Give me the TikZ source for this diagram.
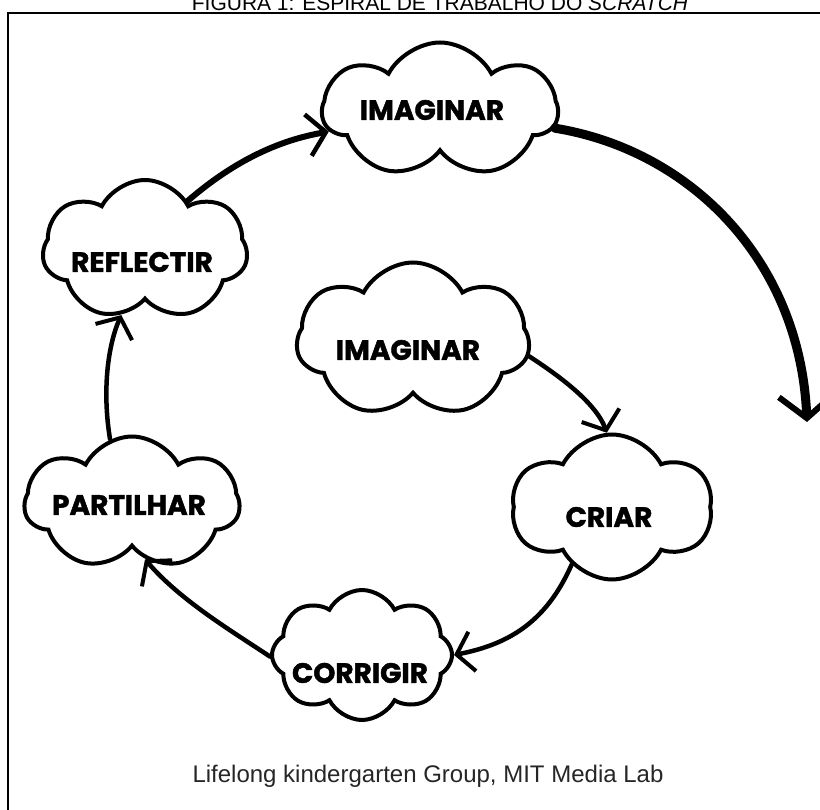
\documentclass[tikz,border=0pt]{standalone}
\usepackage{fontspec}
\setmainfont{Liberation Sans}
\newfontfamily\handfont{Poppins}[BoldFeatures={FakeBold=1.5}]
\usetikzlibrary{shapes.symbols,arrows.meta}
\begin{document}
\begin{tikzpicture}[x=1pt,y=-1pt,
  cloudbox/.style={cloud, draw, line width=4pt, cloud ignores aspect, inner sep=0pt, cloud puff arc=125},
  lbl/.style={font=\handfont\bfseries\fontsize{28}{28}\selectfont, inner sep=0pt},
  bigarrow/.style={line width=9pt, line cap=round, -{Straight Barb[length=22pt,width=54pt,line width=6pt]}},
  midarrow/.style={line width=6pt, line cap=round, -{Straight Barb[length=18pt,width=42pt,line width=4.5pt]}},
  smallarrow/.style={line width=4.5pt, line cap=round, -{Straight Barb[length=16pt,width=40pt,line width=4pt]}}
]
\useasboundingbox (0,0) rectangle (820,810);
\fill[white] (0,0) rectangle (820,810);
% frame
\draw[line width=2.5pt] (8,13) rectangle (850,830);
% title (cut by the page edge) and caption
\node[anchor=base, font=\fontsize{21}{21}\selectfont, inner sep=0pt] (title) at (440,11) {FIGURA 1: ESPIRAL DE TRABALHO DO \textit{SCRATCH}};
\node[font=\fontsize{24}{24}\selectfont, text=black!85, inner sep=0pt] (caption) at (428,776) {Lifelong kindergarten Group, MIT Media Lab};
% clouds
\node[cloudbox, cloud puffs=7, minimum width=235pt, minimum height=135pt, shape border rotate=10] (top) at (440,110) {};
\node[cloudbox, cloud puffs=7, minimum width=205pt, minimum height=140pt, shape border rotate=20] (refl) at (145,250) {};
\node[cloudbox, cloud puffs=7, minimum width=233pt, minimum height=155pt, shape border rotate=5] (inner) at (413,340) {};
\node[cloudbox, cloud puffs=6, minimum width=200pt, minimum height=145pt, shape border rotate=15] (criar) at (612,507) {};
\node[cloudbox, cloud puffs=7, minimum width=215pt, minimum height=133pt, shape border rotate=25] (part) at (132,503) {};
\node[cloudbox, cloud puffs=8, minimum width=180pt, minimum height=130pt, shape border rotate=0] (corr) at (362,655) {};
% labels
\node[lbl] (topT) at (432,110) {IMAGINAR};
\node[lbl] (reflT) at (142,262) {REFLECTIR};
\node[lbl] (innerT) at (408,350) {IMAGINAR};
\node[lbl] (criarT) at (609,517) {CRIAR};
\node[lbl] (partT) at (129,505) {PARTILHAR};
\node[lbl] (corrT) at (360,673) {CORRIGIR};
% connectors
\coordinate (bigend) at (807,422);
\draw[bigarrow] (top.-9) .. controls (690,150) and (800,260) .. (bigend);
\draw[midarrow] (refl.49) .. controls (235,160) and (280,140) .. (top.191);
\draw[smallarrow] (part.109) .. controls (102,390) and (108,345) .. (refl.250);
\draw[smallarrow] (corr.181) .. controls (230,630) and (180,600) .. (part.-77);
\draw[smallarrow] (criar.235) .. controls (545,625) and (505,645) .. (corr.0);
\draw[smallarrow] (inner.-8) .. controls (550,370) and (595,400) .. (criar.94);
\end{tikzpicture}
\end{document}
